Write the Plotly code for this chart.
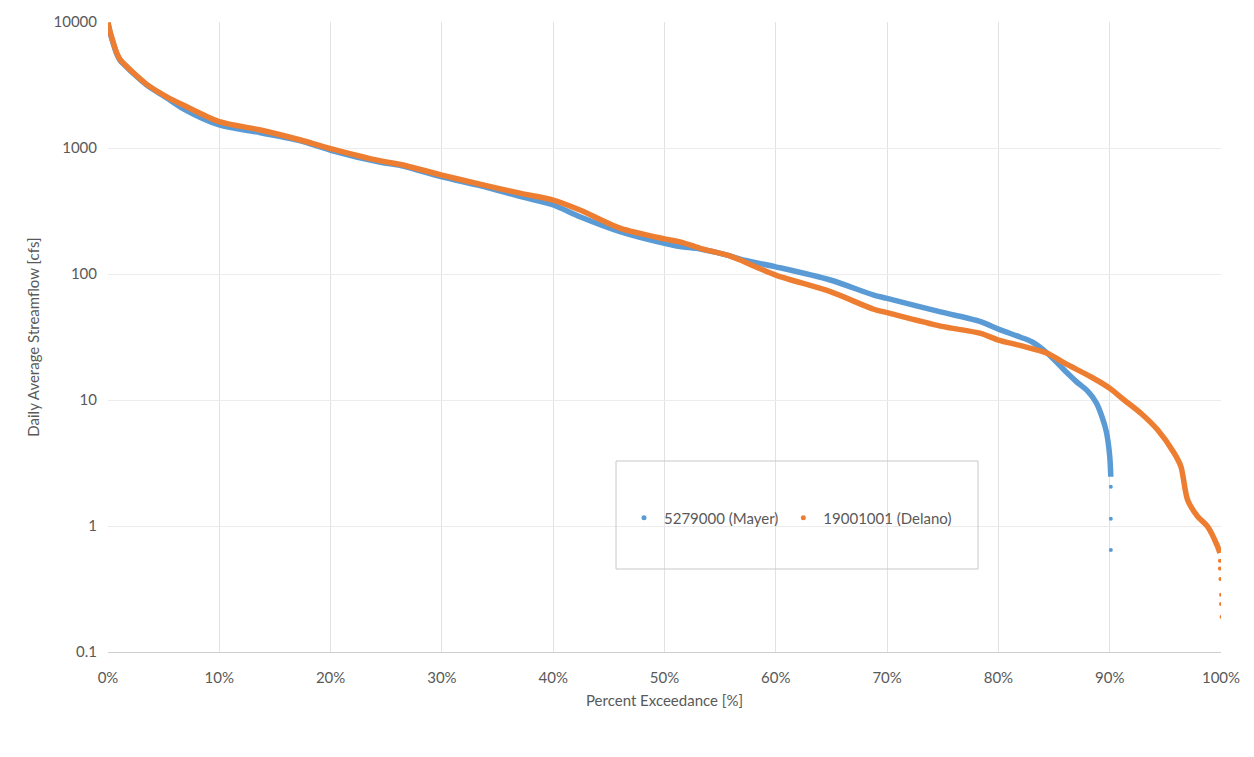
import plotly.graph_objects as go

# ---- data (percent exceedance, daily average streamflow cfs) ----
mayer_pct = [0, 0.18, 0.48, 0.78, 1.08, 1.53, 2.28, 3.48, 5.28, 6.77, 10.0, 13.7, 17.3, 20.0,
             24.5, 26.3, 30.0, 33.5, 37.1, 40.0, 42.4, 46.0, 50.0, 51.4, 53.2, 55.8, 56.8,
             60.0, 64.9, 68.8, 70.0, 74.8, 78.4, 80.0, 82.0, 83.0, 84.4, 86.0, 87.0, 88.0,
             88.8, 89.3, 89.7, 90.0, 90.1]
mayer_cfs = [9800, 8300, 6700, 5600, 4950, 4520, 3900, 3160, 2500, 2050, 1525, 1322, 1140, 960,
             770, 725, 590, 500, 411, 353, 285, 217, 175, 165, 158, 140, 131,
             114, 89.6, 68, 64, 50, 41.9, 36.5, 31.5, 29.0, 23.5, 17.0, 14.0, 11.8,
             9.5, 7.4, 5.6, 3.6, 2.46]
mayer_tail_pct = [90.1, 90.1, 90.1]
mayer_tail_cfs = [2.05, 1.14, 0.645]

delano_pct = [0, 0.18, 0.48, 0.78, 1.08, 1.53, 2.28, 3.48, 5.28, 6.77, 10.0, 13.7, 17.3, 20.0,
              24.5, 26.3, 30.0, 33.5, 37.1, 40.0, 42.4, 46.0, 50.0, 51.4, 53.2, 55.8, 56.8,
              60.0, 64.9, 68.8, 70.0, 74.8, 78.4, 80.0, 82.0, 84.4, 86.0, 88.3, 90.0, 91.3,
              92.8, 94.3, 95.8, 96.4, 97.0, 97.9, 98.8, 99.7, 99.9]
delano_cfs = [9900, 8400, 6850, 5700, 5050, 4580, 3950, 3200, 2550, 2190, 1620, 1390, 1157, 990,
              790, 740, 610, 515, 436, 386, 322, 231, 190, 180, 160, 140, 129,
              98, 72.4, 52.5, 49.3, 38.6, 33.8, 29.9, 27.0, 23.5, 19.5, 15.3, 12.4, 10.0,
              7.85, 5.8, 3.78, 2.96, 1.61, 1.19, 0.99, 0.686, 0.61]
delano_tail_pct = [99.9, 99.9, 99.95, 100.0, 100.0, 100.05]
delano_tail_cfs = [0.53, 0.46, 0.38, 0.285, 0.24, 0.19]

series_names = ["5279000 (Mayer)", "19001001 (Delano)"]
x_ticks = [0, 10, 20, 30, 40, 50, 60, 70, 80, 90, 100]
x_tick_text = ["0%", "10%", "20%", "30%", "40%", "50%", "60%", "70%", "80%", "90%", "100%"]
y_ticks = [0.1, 1, 10, 100, 1000, 10000]
y_tick_text = ["0.1", "1", "10", "100", "1000", "10000"]

BLUE = "#5b9bd5"
ORANGE = "#ed7d31"
GREY_TXT = "#595959"
FONT = "Lato"

fig = go.Figure()

# curves (drawn as thick lines, orange on top)
fig.add_trace(go.Scatter(x=mayer_pct, y=mayer_cfs, mode="lines",
                         line=dict(color=BLUE, width=5.5, shape="spline", smoothing=0.8),
                         showlegend=False, hoverinfo="skip"))
fig.add_trace(go.Scatter(x=mayer_tail_pct, y=mayer_tail_cfs, mode="markers",
                         marker=dict(color=BLUE, size=4), showlegend=False))
fig.add_trace(go.Scatter(x=delano_pct, y=delano_cfs, mode="lines",
                         line=dict(color=ORANGE, width=5.5, shape="spline", smoothing=0.8),
                         showlegend=False, hoverinfo="skip"))
fig.add_trace(go.Scatter(x=delano_tail_pct, y=delano_tail_cfs, mode="markers",
                         marker=dict(color=ORANGE, size=4), showlegend=False))

# legend entries (marker-style, as in the reference)
fig.add_trace(go.Scatter(x=[None], y=[None], mode="markers", name=series_names[0],
                         marker=dict(color=BLUE, size=5)))
fig.add_trace(go.Scatter(x=[None], y=[None], mode="markers", name=series_names[1],
                         marker=dict(color=ORANGE, size=5)))

# the page body has an 8px default margin, so the figure is sized to compensate
OFF = 8
W, H = 1254 - OFF, 757 - OFF
L, R, T, B = 108 - OFF, 33, 22 - OFF, 105
plot_w = W - L - R
plot_h = H - T - B
PB = 652  # screen y of plot bottom


def px_x(sx):
    return (sx - 108) / plot_w


def px_y(sy):
    return (PB - sy) / plot_h


fig.update_layout(
    width=W, height=H,
    margin=dict(l=L, r=R, t=T, b=B, autoexpand=False),
    paper_bgcolor="white", plot_bgcolor="white",
    font=dict(family=FONT, size=15, color=GREY_TXT),
    legend=dict(orientation="h", x=px_x(624), xanchor="left",
                y=px_y(518), yanchor="middle",
                bgcolor="rgba(0,0,0,0)", font=dict(family=FONT, size=15, color=GREY_TXT),
                itemwidth=30),
    shapes=[dict(type="rect", xref="paper", yref="paper",
                 x0=px_x(616), x1=px_x(978),
                 y0=px_y(569), y1=px_y(461),
                 line=dict(color="#c8c8c8", width=1), fillcolor="rgba(0,0,0,0)",
                 layer="above")],
)

fig.update_xaxes(range=[0, 100], tickvals=x_ticks, ticktext=x_tick_text,
                 automargin=False,
                 showgrid=True, gridcolor="#e2e2e2", gridwidth=1,
                 showline=True, linecolor="#cfcfcf", linewidth=1,
                 zeroline=False, ticks="", ticklabelstandoff=12,
                 tickfont=dict(family=FONT, size=15, color=GREY_TXT),
                 title=dict(text="Percent Exceedance [%]", standoff=10,
                            font=dict(family=FONT, size=15, color=GREY_TXT)))
fig.update_yaxes(type="log", range=[-1, 4], tickvals=y_ticks, ticktext=y_tick_text,
                 automargin=False,
                 showgrid=True, gridcolor="#ececec", gridwidth=1,
                 showline=False, zeroline=False, ticks="", ticklabelstandoff=10,
                 tickfont=dict(family=FONT, size=15, color=GREY_TXT),
                 title=dict(text="Daily Average Streamflow [cfs]", standoff=10,
                            font=dict(family=FONT, size=15, color=GREY_TXT)))

fig.write_html("out.html")
